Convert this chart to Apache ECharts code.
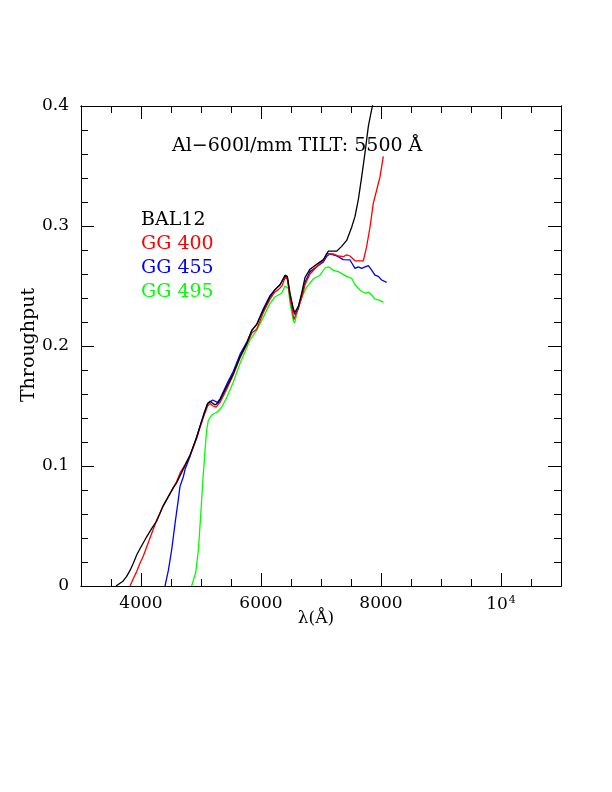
<!DOCTYPE html>
<html>
<head>
<meta charset="utf-8">
<script src="https://cdn.jsdelivr.net/npm/echarts@6/dist/echarts.min.js"></script>
<style>
html,body{margin:0;padding:0;background:#fff;}
#chart{width:612px;height:792px;}
</style>
</head>
<body>
<div id="chart"></div>
<script>
// Wavelength (Å) and throughput values
const balWave = [3583,3700,3761,3817,3872,3930,3983,4039,4094,4180,4261,4372,4428,4539,4594,4700,4817,4928,4983,5050,5110,5150,5200,5240,5290,5317,5428,5539,5650,5761,5844,5928,6039,6150,6233,6317,6400,6439,6483,6539,6567,6622,6678,6733,6817,6928,7039,7122,7261,7344,7428,7511,7567,7622,7678,7733,7789,7844,7900];
const balThr  = [0,0.004,0.008,0.013,0.019,0.026,0.031,0.036,0.041,0.048,0.054,0.067,0.072,0.082,0.086,0.097,0.109,0.124,0.133,0.143,0.152,0.154,0.152,0.151,0.153,0.155,0.166,0.177,0.191,0.202,0.213,0.218,0.230,0.241,0.247,0.251,0.259,0.258,0.244,0.231,0.228,0.233,0.244,0.257,0.264,0.268,0.272,0.279,0.279,0.283,0.288,0.299,0.308,0.322,0.341,0.361,0.383,0.397,0.41];

const gg400Wave = [3817,3870,3928,3983,4039,4150,4261,4372,4483,4594,4650,4733,4817,4928,4983,5050,5110,5150,5200,5250,5317,5428,5539,5650,5761,5850,5928,6039,6150,6233,6289,6350,6400,6439,6483,6550,6600,6678,6733,6817,6928,7039,7094,7206,7289,7372,7428,7483,7567,7706,7761,7817,7872,7928,7983,8039];
const gg400Thr  = [0,0.006,0.012,0.019,0.025,0.040,0.055,0.067,0.077,0.087,0.094,0.101,0.109,0.123,0.132,0.142,0.150,0.152,0.150,0.149,0.153,0.164,0.176,0.190,0.201,0.211,0.214,0.228,0.239,0.245,0.247,0.250,0.257,0.256,0.240,0.222,0.229,0.240,0.251,0.260,0.266,0.271,0.277,0.2767,0.275,0.2744,0.276,0.275,0.271,0.271,0.283,0.299,0.319,0.330,0.341,0.358];

const gg455Wave = [4400,4456,4511,4567,4622,4650,4706,4733,4817,4900,4983,5050,5110,5194,5272,5317,5428,5539,5650,5761,5850,5928,6039,6150,6233,6317,6400,6439,6483,6540,6570,6622,6678,6733,6817,6928,7039,7100,7150,7261,7372,7483,7567,7622,7678,7733,7789,7844,7900,7956,8011,8094];
const gg455Thr  = [0,0.013,0.030,0.052,0.072,0.083,0.091,0.097,0.108,0.120,0.133,0.144,0.152,0.155,0.153,0.156,0.168,0.179,0.193,0.203,0.213,0.218,0.231,0.242,0.247,0.251,0.258,0.257,0.242,0.229,0.226,0.231,0.242,0.253,0.262,0.266,0.270,0.275,0.2767,0.275,0.272,0.2717,0.2647,0.266,0.2647,0.266,0.267,0.2633,0.259,0.258,0.255,0.253];

const gg495Wave = [4844,4911,4956,4994,5028,5067,5094,5122,5178,5272,5344,5428,5539,5650,5817,5928,6039,6150,6233,6344,6400,6456,6483,6539,6560,6650,6761,6872,6983,7067,7122,7206,7289,7317,7428,7511,7567,7650,7733,7789,7844,7900,7983,8039];
const gg495Thr  = [0,0.011,0.030,0.058,0.086,0.113,0.130,0.138,0.1425,0.145,0.149,0.157,0.170,0.1855,0.205,0.213,0.224,0.2355,0.241,0.244,0.250,0.248,0.236,0.221,0.219,0.238,0.249,0.256,0.259,0.265,0.266,0.263,0.262,0.2606,0.258,0.2564,0.251,0.2467,0.244,0.245,0.2425,0.239,0.238,0.2364];

const seriesNames = ['BAL12','GG 400','GG 455','GG 495'];
const seriesColors = ['#000000','#ff0000','#0000ff','#00ff00'];
const xMajorTicks = [4000,6000,8000,10000];
const yMajorTicks = [0,0.1,0.2,0.3,0.4];
const titleText = 'Al\u2212600l/mm TILT: 5500 \u00c5';

const zip = (a,b) => a.map((v,i)=>[v,b[i]]);
const allData = [zip(balWave,balThr), zip(gg400Wave,gg400Thr), zip(gg455Wave,gg455Thr), zip(gg495Wave,gg495Thr)];

const FONT = 'DejaVu Serif';
const chart = echarts.init(document.getElementById('chart'), null, {renderer:'canvas'});

const baseX = {type:'value', min:3000, max:11000, splitLine:{show:false},
  axisLine:{show:true, onZero:false, lineStyle:{color:'#000', width:1}}};
const baseY = {type:'value', min:0, max:0.4, splitLine:{show:false},
  axisLine:{show:true, onZero:false, lineStyle:{color:'#000', width:1}}};

const xAxes = [
  Object.assign({}, baseX, {position:'bottom', interval:500,
    axisTick:{inside:true, length:7, lineStyle:{color:'#000'}}, axisLabel:{show:false}}),
  Object.assign({}, baseX, {position:'bottom',
    axisTick:{inside:true, length:13, customValues:xMajorTicks, lineStyle:{color:'#000'}},
    axisLabel:{show:true, customValues:xMajorTicks, margin:9, fontFamily:FONT, fontSize:17, color:'#000',
      formatter: v => v===10000 ? '{b|10}{s|4}' : String(v),
      rich:{b:{fontFamily:FONT, fontSize:17, color:'#000'}, s:{fontFamily:FONT, fontSize:11, color:'#000', verticalAlign:'top', padding:[0,0,8,1]}}}}),
  Object.assign({}, baseX, {position:'top', interval:500,
    axisTick:{inside:true, length:7, lineStyle:{color:'#000'}}, axisLabel:{show:false}}),
  Object.assign({}, baseX, {position:'top',
    axisTick:{inside:true, length:13, customValues:xMajorTicks, lineStyle:{color:'#000'}}, axisLabel:{show:false}})
];
const yAxes = [
  Object.assign({}, baseY, {position:'left', interval:0.02,
    axisTick:{inside:true, length:7, lineStyle:{color:'#000'}}, axisLabel:{show:false}}),
  Object.assign({}, baseY, {position:'left', interval:0.1,
    axisTick:{inside:true, length:13, lineStyle:{color:'#000'}},
    axisLabel:{show:true, margin:12, fontFamily:FONT, fontSize:17, color:'#000',
      formatter: v => v===0 ? '0' : v.toFixed(1)}}),
  Object.assign({}, baseY, {position:'right', interval:0.02,
    axisTick:{inside:true, length:7, lineStyle:{color:'#000'}}, axisLabel:{show:false}}),
  Object.assign({}, baseY, {position:'right', interval:0.1,
    axisTick:{inside:true, length:13, lineStyle:{color:'#000'}}, axisLabel:{show:false}})
];

const series = allData.map((d,i)=>({
  name: seriesNames[i], type:'line', data:d, xAxisIndex:0, yAxisIndex:0,
  showSymbol:false, symbol:'none', clip:true, smooth:false,
  lineStyle:{color:seriesColors[i], width:1.3}, z: 10 - i
}));

const legendGraphics = seriesNames.map((n,i)=>({
  type:'text', left:141, top:211 + i*24,
  style:{text:n, fill:seriesColors[i], font:'19px "DejaVu Serif"'}
}));

chart.setOption({
  backgroundColor:'#fff',
  animation:false,
  grid:{left:81, top:106, width:480, height:480, containLabel:false},
  xAxis: xAxes,
  yAxis: yAxes,
  series: series,
  graphic: [
    {type:'text', left:172, top:137, style:{text:titleText, fill:'#000', font:'19px "DejaVu Serif"'}},
    {type:'text', x:316, y:619, style:{text:'\u03bb(\u00c5)', fill:'#000', font:'17px "DejaVu Serif"', textAlign:'center', textVerticalAlign:'middle'}},
    {type:'text', x:29, y:345, rotation:Math.PI/2, style:{text:'Throughput', fill:'#000', font:'19px "DejaVu Serif"', textAlign:'center', textVerticalAlign:'middle'}}
  ].concat(legendGraphics)
});
</script>
</body>
</html>
